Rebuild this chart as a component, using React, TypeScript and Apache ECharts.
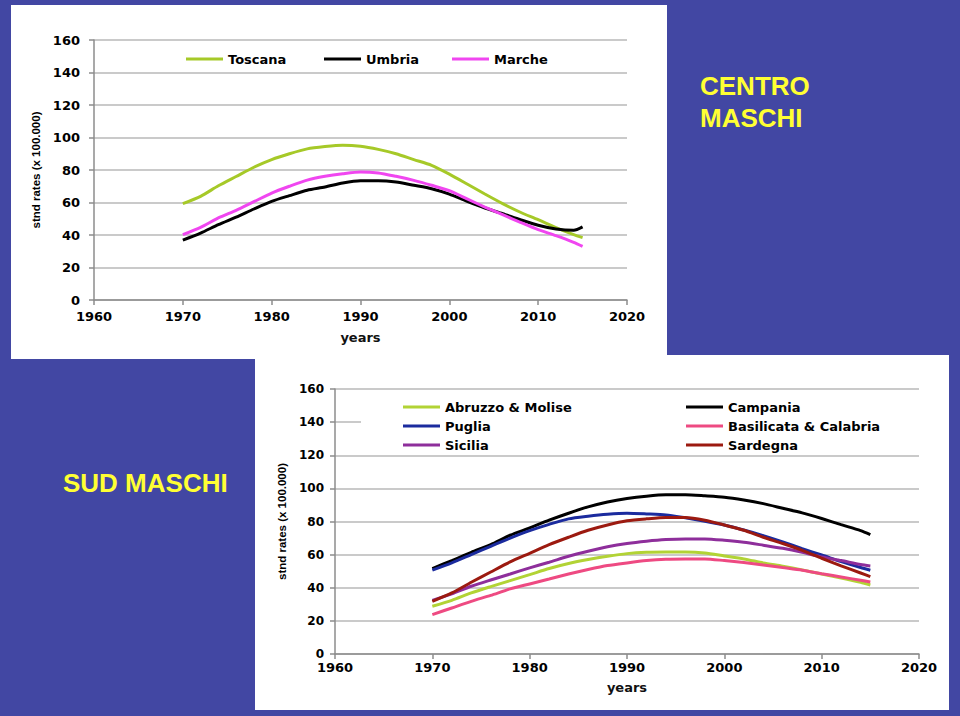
import React, { useEffect, useRef } from "react";
import * as echarts from "echarts";

// ---------- data ----------
const years = [1970, 1972, 1974, 1976, 1978, 1980, 1982, 1984, 1986, 1988, 1990, 1992, 1994, 1996, 1998, 2000, 2002, 2004, 2006, 2008, 2010, 2012, 2014, 2015];

const xTicks = [1960, 1970, 1980, 1990, 2000, 2010, 2020];
const yTicks = [0, 20, 40, 60, 80, 100, 120, 140, 160];

// Centro
const toscana = [59.3, 63.8, 70.3, 76, 81.7, 86.4, 90, 93, 94.4, 95.2, 94.6, 92.7, 90, 86.4, 82.9, 77.5, 71.4, 65.2, 59.3, 54, 49.4, 44.5, 40.2, 38.4];
const umbria = [36.9, 41.2, 46.4, 51, 56, 60.7, 64.2, 67.5, 69.5, 72, 73.4, 73.4, 72.6, 70.6, 68.5, 65.2, 60.7, 56.6, 53.1, 49.4, 46, 43.7, 42.9, 45];
const marche = [40.2, 44.7, 50.5, 55.2, 60.5, 65.8, 70, 73.8, 76.1, 77.7, 78.8, 78.2, 76.1, 73.6, 70.6, 67.3, 62.2, 57.2, 52.5, 47.8, 43.3, 39.6, 35.5, 33];

// Sud
const abruzzo = [28.8, 32.4, 36.9, 40.7, 44.3, 47.9, 51.6, 54.6, 57, 59, 60.6, 61.4, 61.6, 61.6, 61, 59.2, 57.4, 55, 53, 50.8, 48.3, 45.9, 43.3, 41.7];
const campania = [51.6, 56.4, 61.4, 66, 71.7, 76.1, 80.8, 85, 88.8, 91.8, 93.9, 95.3, 96.1, 96.1, 95.5, 94.7, 93, 90.8, 88, 85.2, 81.8, 78.1, 74.5, 72.1];
const puglia = [50.6, 55, 60, 65, 70, 74.5, 78.3, 81.6, 83.2, 84.4, 85, 84.6, 84, 82.2, 80.2, 77.9, 74.9, 71.5, 67.7, 63.6, 59.8, 55.8, 52.2, 50.6];
const basilicata = [23.8, 27.8, 31.8, 35.4, 39.3, 42.3, 45.3, 48.3, 51, 53.4, 55, 56.4, 57.2, 57.4, 57.4, 56.4, 55.2, 53.8, 52.2, 50.6, 48.5, 46.5, 44.5, 43.5];
const sicilia = [32.4, 36.3, 40.9, 44.7, 48.3, 52, 55.4, 59, 62, 64.7, 66.7, 68.1, 69.1, 69.5, 69.5, 68.7, 67.5, 65.7, 63.8, 61.4, 58.6, 56.4, 54, 53.2];
const sardegna = [31.8, 36.9, 43.3, 49.5, 55.6, 60.8, 66, 70.5, 74.7, 77.9, 80.4, 81.6, 82.4, 82.4, 80.8, 77.9, 74.7, 70.5, 66.7, 62.6, 57.8, 53.2, 48.9, 46.7];

const centroNames = ["Toscana", "Umbria", "Marche"];
const sudLeftNames = ["Abruzzo & Molise", "Puglia", "Sicilia"];
const sudRightNames = ["Campania", "Basilicata & Calabria", "Sardegna"];

const yName = "stnd rates (x 100.000)";
const xName = "years";

// ---------- styling ----------
const FONT = "DejaVu Sans";
const BLUE = "#4247A3";
const YELLOW = "#FFFF33";
const GRID_GRAY = "#B8B8B8";
const AXIS_GRAY = "#8C8C8C";

const pairs = (vals: number[]) => years.map((y, i) => [y, vals[i]]);

function mkSeries(name: string, vals: number[], color: string, idx: number) {
  return {
    type: "line",
    name,
    xAxisIndex: idx,
    yAxisIndex: idx,
    data: pairs(vals),
    symbol: "none",
    smooth: 0.25,
    lineStyle: { color, width: 3 },
    itemStyle: { color },
    z: 3,
  };
}

function mkX(gridIndex: number, fontSize: number, margin: number, nameGap: number) {
  return {
    type: "value",
    gridIndex,
    min: xTicks[0],
    max: xTicks[xTicks.length - 1],
    interval: 10,
    name: xName,
    nameLocation: "middle",
    nameGap,
    nameTextStyle: { fontFamily: FONT, fontWeight: "bold", fontSize, color: "#111" },
    axisLine: { show: true, lineStyle: { color: AXIS_GRAY, width: 1.5 } },
    axisTick: { show: true, length: 5, lineStyle: { color: AXIS_GRAY, width: 1.5 } },
    axisLabel: {
      margin,
      fontFamily: FONT,
      fontWeight: "bold",
      fontSize,
      color: "#000",
      formatter: (v: number) => String(v),
    },
    splitLine: { show: false },
  };
}

function mkY(gridIndex: number, fontSize: number, margin: number, nameGap: number) {
  return {
    type: "value",
    gridIndex,
    min: yTicks[0],
    max: yTicks[yTicks.length - 1],
    interval: 20,
    name: yName,
    nameLocation: "middle",
    nameRotate: 90,
    nameGap,
    nameTextStyle: { fontFamily: "Liberation Sans", fontWeight: "bold", fontSize: 11.5, color: "#000" },
    axisLine: { show: true, lineStyle: { color: AXIS_GRAY, width: 1.5 } },
    axisTick: { show: true, length: 5, lineStyle: { color: AXIS_GRAY, width: 1.5 } },
    axisLabel: {
      margin,
      fontFamily: FONT,
      fontWeight: "bold",
      fontSize,
      color: "#000",
      formatter: (v: number) => String(v),
    },
    splitLine: { show: true, lineStyle: { color: GRID_GRAY, width: 1.5 } },
  };
}

function mkLegend(names: string[], left: number, top: number, orient: string, fontSize: number) {
  return {
    data: names,
    left,
    top,
    orient,
    padding: 0,
    itemGap: 5,
    itemWidth: 37,
    itemHeight: 3,
    icon: "rect",
    selectedMode: false,
    textStyle: { fontFamily: FONT, fontWeight: "bold", fontSize, color: "#000", lineHeight: 14 },
  };
}

export default function App() {
  const ref = useRef<HTMLDivElement>(null);

  useEffect(() => {
    if (!ref.current) return;
    const chart = echarts.init(ref.current, null, { renderer: "svg" });
    chart.setOption({
      animation: false,
      backgroundColor: BLUE,
      grid: [
        { left: 94, top: 40, width: 533, height: 260 },
        { left: 335, top: 389, width: 584, height: 265 },
      ],
      xAxis: [mkX(0, 13, 10, 31), mkX(1, 13, 7, 27)],
      yAxis: [mkY(0, 13, 14, 51), mkY(1, 12, 11, 47)],
      legend: [
        mkLegend([centroNames[0]], 186, 52, "horizontal", 13),
        mkLegend([centroNames[1]], 324, 52, "horizontal", 13),
        mkLegend([centroNames[2]], 452, 52, "horizontal", 13),
        mkLegend(sudLeftNames, 403, 400, "vertical", 13),
        mkLegend(sudRightNames, 686, 400, "vertical", 13),
      ],
      graphic: [
        { type: "rect", z: -10, shape: { x: 11, y: 5, width: 656, height: 354 }, style: { fill: "#fff" } },
        { type: "rect", z: -10, shape: { x: 255, y: 355, width: 694, height: 355 }, style: { fill: "#fff" } },
        { type: "rect", z: 1, shape: { x: 361, y: 396, width: 562, height: 56 }, style: { fill: "#fff" } },
        {
          type: "text",
          x: 700,
          y: 70,
          z: 5,
          style: {
            text: "CENTRO\nMASCHI",
            fill: YELLOW,
            font: "bold 26px 'Liberation Sans', Arial, sans-serif",
            lineHeight: 32,
            textVerticalAlign: "top",
          },
        },
        {
          type: "text",
          x: 63,
          y: 467,
          z: 5,
          style: {
            text: "SUD MASCHI",
            fill: YELLOW,
            font: "bold 26px 'Liberation Sans', Arial, sans-serif",
            lineHeight: 32,
            textVerticalAlign: "top",
          },
        },
      ],
      series: [
        mkSeries("Toscana", toscana, "#A6C928", 0),
        mkSeries("Umbria", umbria, "#000000", 0),
        mkSeries("Marche", marche, "#F046F0", 0),
        mkSeries("Abruzzo & Molise", abruzzo, "#B2D335", 1),
        mkSeries("Campania", campania, "#000000", 1),
        mkSeries("Puglia", puglia, "#1B2B9E", 1),
        mkSeries("Basilicata & Calabria", basilicata, "#EE4A82", 1),
        mkSeries("Sicilia", sicilia, "#8E2E9B", 1),
        mkSeries("Sardegna", sardegna, "#9C1A10", 1),
      ],
    });
    return () => chart.dispose();
  }, []);

  return (
    <div
      ref={ref}
      style={{ position: "absolute", left: 0, top: 0, width: 960, height: 716 }}
    />
  );
}
